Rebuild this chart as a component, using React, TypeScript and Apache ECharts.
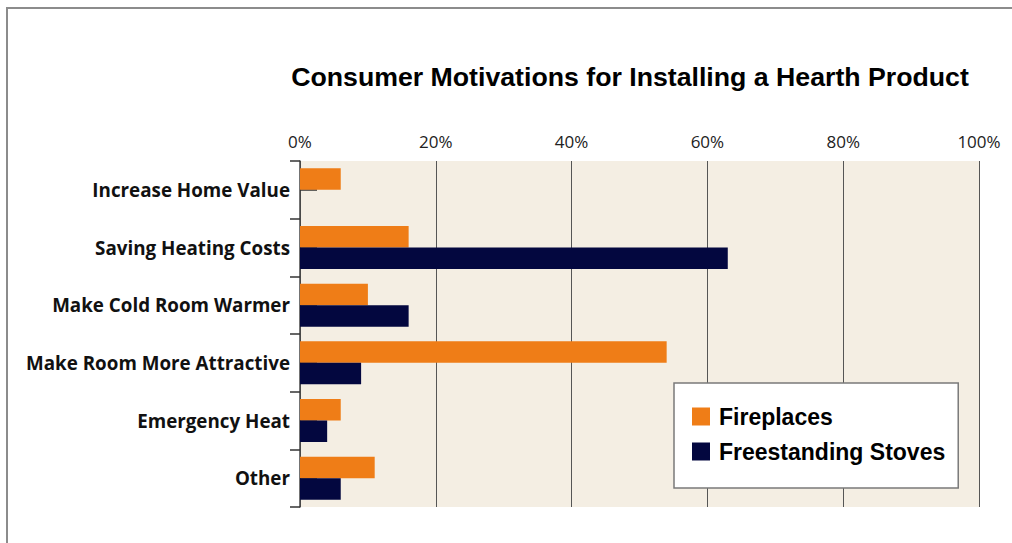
import React, { useEffect, useRef } from "react";
import * as echarts from "echarts";

const categories = [
  "Increase Home Value",
  "Saving Heating Costs",
  "Make Cold Room Warmer",
  "Make Room More Attractive",
  "Emergency Heat",
  "Other",
];
const fireplaces = [6, 16, 10, 54, 6, 11];
const stoves = [0, 63, 16, 9, 4, 6];
const seriesNames = ["Fireplaces", "Freestanding Stoves"];
const titleText = "Consumer Motivations for Installing a Hearth Product";

export default function App() {
  const ref = useRef<HTMLDivElement>(null);
  useEffect(() => {
    if (!ref.current) return;
    const chart = echarts.init(ref.current, null, { renderer: "svg" });
    chart.setOption({
      animation: false,
      backgroundColor: "#ffffff",
      title: {
        text: titleText,
        left: 625,
        top: 58,
        textAlign: "center",
        textStyle: {
          fontFamily: "Liberation Sans",
          fontWeight: "bold",
          fontSize: 26.7,
          color: "#000",
        },
      },
      legend: {
        orient: "vertical",
        left: 674,
        top: 383,
        data: seriesNames,
        itemWidth: 18,
        itemHeight: 18,
        itemGap: 12,
        padding: [22, 13, 25, 18],
        backgroundColor: "#ffffff",
        borderColor: "#7a7a7a",
        borderWidth: 1.5,
        icon: "rect",
        textStyle: {
          fontFamily: "Liberation Sans",
          fontWeight: "bold",
          fontSize: 23,
          color: "#000",
          padding: [0, 0, 0, 4],
        },
      },
      grid: { left: 300, top: 161, right: 33, bottom: 36, containLabel: false,
        show: true, backgroundColor: "#f4eee3", borderWidth: 0 },
      xAxis: {
        type: "value",
        position: "top",
        min: 0,
        max: 100,
        interval: 20,
        axisLine: { show: false },
        axisTick: { show: false },
        axisLabel: {
          formatter: "{value}%",
          fontFamily: "Open Sans",
          fontSize: 17,
          color: "#222",
          margin: 11,
        },
        splitLine: { show: true, lineStyle: { color: "#555", width: 1 } },
      },
      yAxis: [
        {
          type: "category",
          data: categories,
          inverse: true,
          axisLine: { show: true, lineStyle: { color: "#444", width: 1.5 } },
          axisTick: { show: true, length: 10, lineStyle: { color: "#333", width: 1.5 } },
          axisLabel: {
            fontFamily: "Open Sans",
            fontWeight: "bold",
            fontSize: 18.8,
            color: "#111",
            margin: 10,
          },
        },
        {
          type: "category",
          data: categories,
          inverse: true,
          position: "left",
          axisLine: { show: false },
          axisTick: { show: true, inside: true, alignWithLabel: true, length: 17, lineStyle: { color: "#333", width: 1.5 } },
          axisLabel: { show: false },
          splitLine: { show: false },
        },
      ],
      series: [
        {
          name: seriesNames[0],
          type: "bar",
          data: fireplaces,
          yAxisIndex: 0,
          barWidth: 21.5,
          barGap: "0%",
          itemStyle: { color: "#ef7d17" },
        },
        {
          name: seriesNames[1],
          type: "bar",
          data: stoves,
          yAxisIndex: 0,
          barWidth: 21.5,
          barGap: "0%",
          itemStyle: { color: "#03073f" },
        },
      ],
      graphic: [
        { type: "line", shape: { x1: 6, y1: 8, x2: 1012, y2: 8 }, style: { stroke: "#8c8c8c", lineWidth: 2 } },
        { type: "line", shape: { x1: 7, y1: 7, x2: 7, y2: 543 }, style: { stroke: "#8c8c8c", lineWidth: 2 } },
      ],
    });
    return () => chart.dispose();
  }, []);
  return (
    <div
      ref={ref}
      style={{ position: "fixed", left: 0, top: 0, width: 1012, height: 543 }}
    />
  );
}
